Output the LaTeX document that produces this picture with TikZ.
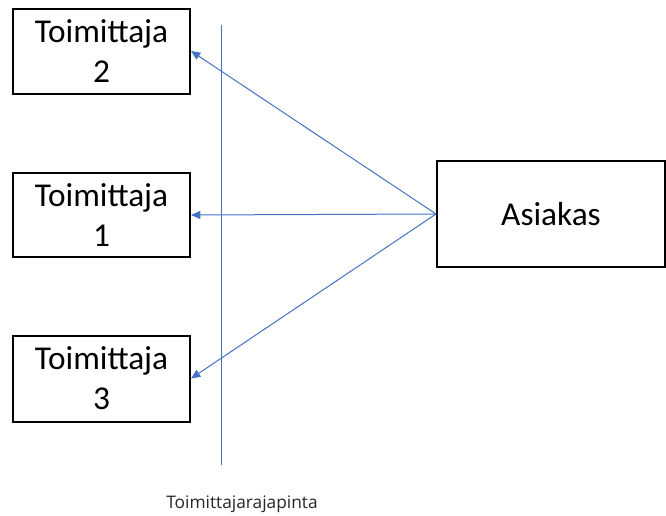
\documentclass[tikz,border=0pt]{standalone}
\usepackage{fontspec}
\setmainfont{Carlito}
\newfontfamily\labfont{Open Sans}
\usetikzlibrary{arrows.meta}
\definecolor{lineblue}{HTML}{4472C4}
\begin{document}
\begin{tikzpicture}[x=0.75pt,y=-0.75pt,
  box/.style={draw=black,line width=1.5pt,inner sep=0pt,align=center,font=\fontsize{25}{30}\selectfont},
  conn/.style={draw=lineblue,line width=0.75pt,-{Triangle[length=7pt,width=6pt]}}]
\useasboundingbox (0,0) rectangle (666,515);
\node[box,minimum width=177*0.75pt,minimum height=85*0.75pt] (t2) at (101.5,51) {Toimittaja\\2};
\node[box,minimum width=177*0.75pt,minimum height=84*0.75pt] (t1) at (101.5,215) {Toimittaja\\1};
\node[box,minimum width=177*0.75pt,minimum height=86*0.75pt] (t3) at (101.5,378.5) {Toimittaja\\3};
\node[box,minimum width=228*0.75pt,minimum height=106*0.75pt] (as) at (551,214) {Asiakas};
\coordinate (vtop) at (221.5,25);
\coordinate (vbot) at (221.5,465);
\draw[lineblue,line width=0.8pt] (vtop) -- (vbot);
\draw[conn] (as.west) -- (t2.east);
\draw[conn] (as.west) -- (t1.east);
\draw[conn] (as.west) -- (t3.east);
\node[font=\labfont\fontsize{13}{15}\selectfont,text=black!85] (lab) at (242,504) {Toimittajarajapinta};
\end{tikzpicture}
\end{document}
